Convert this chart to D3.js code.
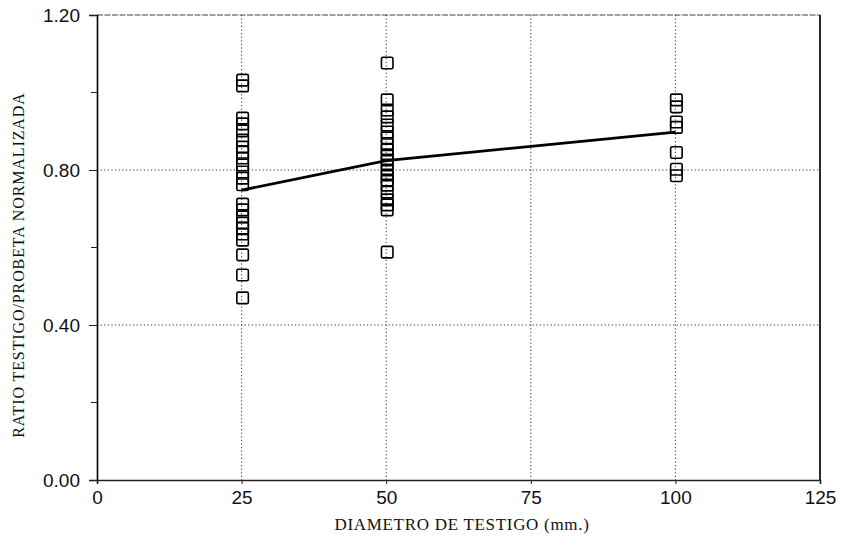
<!DOCTYPE html>
<html><head><meta charset="utf-8">
<script src="https://cdn.jsdelivr.net/npm/d3@7"></script>
<style>body{margin:0;background:#fff}</style>
</head><body>
<svg id="c" width="844" height="545"></svg>
<script>
const diam25 = [1.032,1.017,0.934,0.919,0.901,0.877,0.859,0.846,0.831,0.813,0.795,0.779,0.762,0.712,0.697,0.679,0.663,0.650,0.635,0.619,0.581,0.529,0.470];
const diam50 = [1.076,0.981,0.955,0.937,0.916,0.898,0.883,0.865,0.852,0.839,0.826,0.813,0.800,0.787,0.774,0.761,0.743,0.723,0.710,0.697,0.588];
const diam100 = [0.981,0.963,0.924,0.910,0.845,0.802,0.785];
const meanX = [25,50,100];
const meanY = [0.748,0.824,0.898];
const xTicks = [0,25,50,75,100,125];
const yTicks = [0.00,0.40,0.80,1.20];
const yMinor = [0.20,0.60,1.00];
const xTitle = "DIAMETRO DE TESTIGO (mm.)";
const yTitle = "RATIO TESTIGO/PROBETA NORMALIZADA";

const svg = d3.select("#c");
const L=97,R=820,T=15,B=480;
const x = d3.scaleLinear().domain([0,125]).range([L,R]);
const y = d3.scaleLinear().domain([0,1.2]).range([B,T]);

// grid
const g = svg.append("g");
g.selectAll("line.vg").data([25,50,75,100]).join("line")
 .attr("x1",d=>x(d)).attr("x2",d=>x(d)).attr("y1",T).attr("y2",B)
 .attr("stroke","#333").attr("stroke-width",1).attr("stroke-dasharray","1.2,2.4");
g.selectAll("line.hg").data([0.40,0.80]).join("line")
 .attr("x1",L).attr("x2",R).attr("y1",d=>y(d)).attr("y2",d=>y(d))
 .attr("stroke","#333").attr("stroke-width",1).attr("stroke-dasharray","1.2,2.4");
// top border
svg.append("line").attr("x1",L).attr("x2",R).attr("y1",T).attr("y2",T)
 .attr("stroke","#444").attr("stroke-width",1.2).attr("stroke-dasharray","6,1.5");
// right border
svg.append("line").attr("x1",R).attr("x2",R).attr("y1",T).attr("y2",B)
 .attr("stroke","#111").attr("stroke-width",1.8);

// axes
const yAxis = d3.axisLeft(y).tickValues(yTicks).tickFormat(d3.format(".2f")).tickSize(8).tickPadding(9);
const ya = svg.append("g").attr("transform",`translate(${L},0)`).call(yAxis);
ya.select(".domain").attr("stroke","#000").attr("stroke-width",1.6);
ya.selectAll(".tick line").attr("stroke","#222").attr("stroke-width",1);
ya.selectAll("text").attr("font-family","Liberation Sans, Arial, sans-serif").attr("font-size",19).attr("fill","#111");
svg.append("g").selectAll("line").data(yMinor).join("line")
 .attr("x1",L-6).attr("x2",L).attr("y1",d=>y(d)).attr("y2",d=>y(d))
 .attr("stroke","#222").attr("stroke-width",1);

const xAxis = d3.axisBottom(x).tickValues(xTicks).tickFormat(d3.format("d")).tickSize(4).tickPadding(7);
const xa = svg.append("g").attr("transform",`translate(0,${B})`).call(xAxis);
xa.select(".domain").attr("stroke","#222").attr("stroke-width",1.6);
xa.selectAll(".tick line").attr("stroke","#222");
xa.selectAll("text").attr("font-family","Liberation Sans, Arial, sans-serif").attr("font-size",19).attr("fill","#111");

// titles
svg.append("text").attr("x",462).attr("y",530).attr("text-anchor","middle")
 .attr("font-family","Liberation Serif, Times New Roman, serif").attr("font-size",17).attr("letter-spacing",0.7).attr("fill","#111").text(xTitle);
svg.append("text").attr("transform",`translate(24,265) rotate(-90)`).attr("text-anchor","middle")
 .attr("font-family","Liberation Serif, Times New Roman, serif").attr("font-size",16).attr("letter-spacing",0.9).attr("fill","#111").text(yTitle);

// mean line
const line = d3.line().x((d,i)=>x(meanX[i])).y(d=>y(d));
svg.append("path").datum(meanY).attr("d",line).attr("fill","none").attr("stroke","#000").attr("stroke-width",2.8);

// markers
const pts = [];
diam25.forEach(v=>pts.push([25,v]));
diam50.forEach(v=>pts.push([50,v]));
diam100.forEach(v=>pts.push([100,v]));
const s = 11.5;
svg.append("g").selectAll("rect").data(pts).join("rect")
 .attr("x",d=>x(d[0])-s/2+1).attr("y",d=>y(d[1])-s/2).attr("width",s).attr("height",s).attr("rx",1.5)
 .attr("fill","none").attr("stroke","#000").attr("stroke-width",1.6);
</script>
</body></html>
